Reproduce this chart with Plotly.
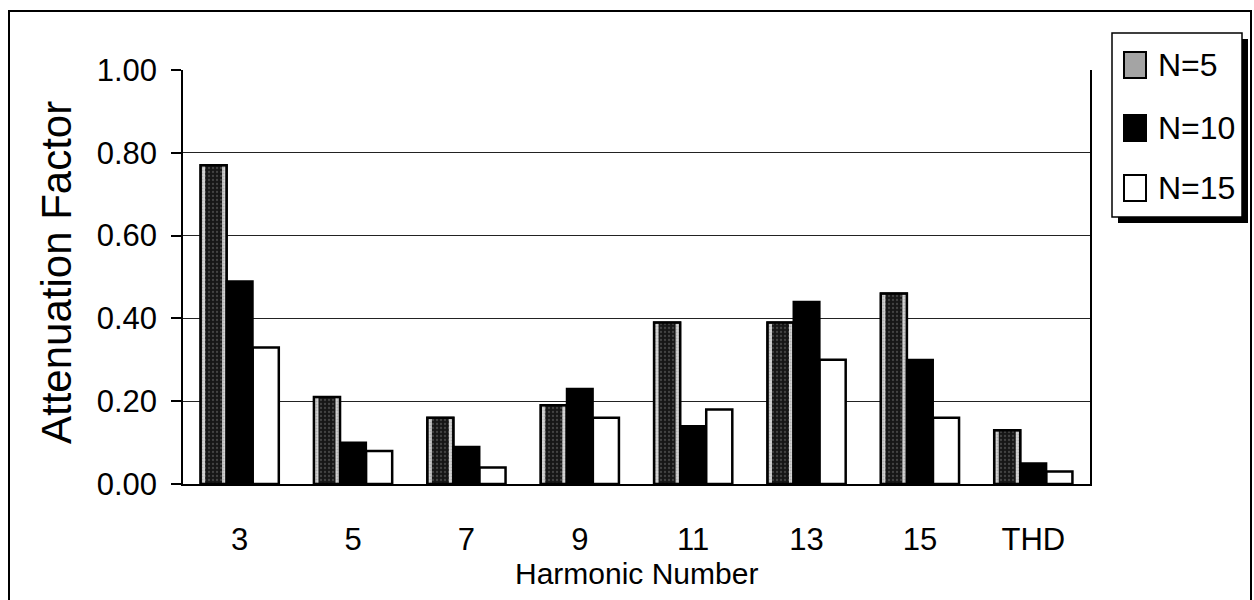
import plotly.graph_objects as go

# Harmonic attenuation factors for three values of N
harmonics = ["3", "5", "7", "9", "11", "13", "15", "THD"]
n5 = [0.77, 0.21, 0.16, 0.19, 0.39, 0.39, 0.46, 0.13]
n10 = [0.49, 0.10, 0.09, 0.23, 0.14, 0.44, 0.30, 0.05]
n15 = [0.33, 0.08, 0.04, 0.16, 0.18, 0.30, 0.16, 0.03]
series_names = ["N=5", "N=10", "N=15"]

W, H = 1254, 600
L, R, T, B = 183, 164, 70, 116
PW, PH = W - L - R, H - T - B

FONT = "Liberation Sans, Arial, sans-serif"


def px(x):
    return (x - L) / PW


def py(y):
    return (H - B - y) / PH


bw = 0.23
inset = 0.04

fig = go.Figure()

# N=5: light stippled band with black outline
fig.add_trace(go.Bar(
    x=harmonics, y=n5, name=series_names[0], width=bw, offset=-1.5 * bw,
    marker=dict(color="#c8c8c8",
                pattern=dict(shape=".", fgcolor="#8c8c8c", bgcolor="#d4d4d4",
                             size=3, solidity=0.35),
                line=dict(color="black", width=2)),
))
# N=5: dark mottled core
fig.add_trace(go.Bar(
    x=harmonics, y=n5, hoverinfo="skip",
    width=bw - 2 * inset, offset=-1.5 * bw + inset,
    marker=dict(color="#1c1c1c",
                pattern=dict(shape=".", fgcolor="#707070", bgcolor="#161616",
                             size=4, solidity=0.25),
                line=dict(width=0)),
))
# N=5: outline redrawn on top
fig.add_trace(go.Bar(
    x=harmonics, y=n5, hoverinfo="skip",
    width=bw, offset=-1.5 * bw,
    marker=dict(color="rgba(0,0,0,0)", line=dict(color="black", width=2.5)),
))
fig.add_trace(go.Bar(
    x=harmonics, y=n10, name=series_names[1], width=bw, offset=-0.5 * bw,
    marker=dict(color="black", line=dict(color="black", width=2)),
))
fig.add_trace(go.Bar(
    x=harmonics, y=n15, name=series_names[2], width=bw, offset=0.5 * bw,
    marker=dict(color="white", line=dict(color="black", width=2.5)),
))

# frame, legend box with drop shadow, legend swatches
shapes = [
    dict(type="rect", xref="paper", yref="paper",
         x0=px(9), x1=px(1251), y0=py(620), y1=py(11),
         fillcolor="rgba(0,0,0,0)", line=dict(color="black", width=2)),
    dict(type="rect", xref="paper", yref="paper",
         x0=px(1118), x1=px(1248), y0=py(223), y1=py(39),
         fillcolor="black", line=dict(width=0)),
    dict(type="rect", xref="paper", yref="paper",
         x0=px(1112), x1=px(1242), y0=py(217), y1=py(33),
         fillcolor="white", line=dict(color="black", width=1.5)),
]

swatch_fill = ["#a4a4a4", "black", "white"]
row_y = [65, 128, 188]
annotations = []
for name, fill, yc in zip(series_names, swatch_fill, row_y):
    shapes.append(dict(type="rect", xref="paper", yref="paper",
                       x0=px(1124), x1=px(1146), y0=py(yc + 13), y1=py(yc - 13),
                       fillcolor=fill, line=dict(color="black", width=2)))
    annotations.append(dict(text=name, xref="paper", yref="paper",
                            x=px(1156), y=py(yc), showarrow=False,
                            xanchor="left", yanchor="middle",
                            font=dict(family=FONT, size=32, color="black")))

annotations += [
    dict(text="Attenuation Factor", xref="paper", yref="paper",
         x=px(56), y=py(273), textangle=-90, showarrow=False,
         xanchor="center", yanchor="middle",
         font=dict(family=FONT, size=42, color="black")),
    dict(text="Harmonic Number", xref="paper", yref="paper",
         x=0.5, y=py(573), showarrow=False,
         xanchor="center", yanchor="middle",
         font=dict(family=FONT, size=30, color="black")),
]

fig.update_layout(
    width=W, height=H,
    margin=dict(l=L, r=R, t=T, b=B, autoexpand=False),
    paper_bgcolor="white", plot_bgcolor="white",
    barmode="overlay",
    showlegend=False,
    shapes=shapes,
    annotations=annotations,
    xaxis=dict(type="category", showline=True, linecolor="black", linewidth=1.5,
               ticks="", showgrid=False, ticklabelstandoff=27,
               tickfont=dict(family=FONT, size=31, color="black")),
    yaxis=dict(range=[0, 1.0], dtick=0.2, tickformat=".2f",
               showline=True, linecolor="black", linewidth=1.5, mirror=True,
               ticks="outside", ticklen=10, tickcolor="black", tickwidth=1.5,
               showgrid=True, gridcolor="#222222", gridwidth=1,
               zeroline=False, ticklabelstandoff=8,
               tickfont=dict(family=FONT, size=31, color="black")),
)

fig.write_html("out.html")
